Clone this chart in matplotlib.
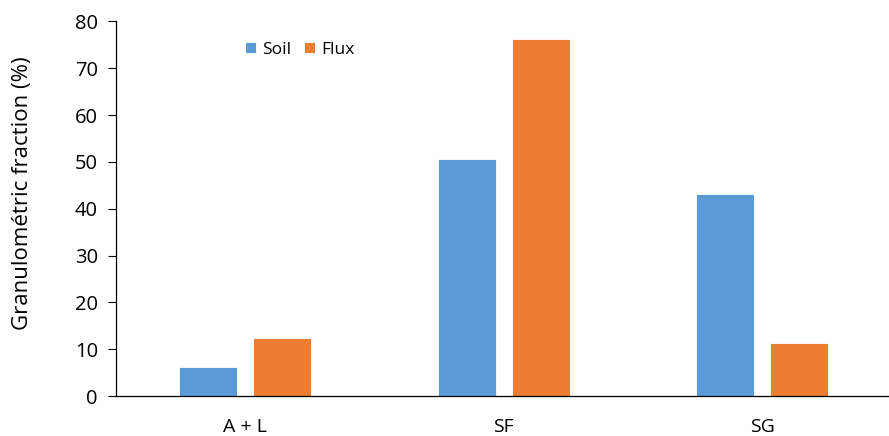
import matplotlib
matplotlib.use("Agg")
import matplotlib.pyplot as plt
import numpy as np

categories = ["A + L", "SF", "SG"]
soil = [6.1, 50.6, 43.2]
flux = [12.4, 76.2, 11.3]
y_ticks = [0, 10, 20, 30, 40, 50, 60, 70, 80]

plt.rcParams['font.family'] = ['Open Sans', 'DejaVu Sans']

fig = plt.figure(figsize=(8.89, 4.36), dpi=100)
ax = fig.add_axes([0.1305, 0.0917, 0.872, 0.859])

x = np.arange(len(categories))
width = 0.224
offset = 0.143
ax.bar(x - offset, soil, width, color="#5B9BD5", edgecolor="white", linewidth=0.6, label="Soil")
ax.bar(x + offset, flux, width, color="#ED7D31", edgecolor="white", linewidth=0.6, label="Flux")

ax.set_xlim(-0.5, 2.5)
ax.set_ylim(0, 80)
ax.set_yticks(y_ticks)
ax.set_xticks(x)
ax.set_xticklabels(categories)

ax.tick_params(axis="y", direction="out", length=6, width=0.8, pad=7, labelsize=14.5, colors="black")
ax.tick_params(axis="x", length=0, pad=16, labelsize=14)

for s in ["top", "right"]:
    ax.spines[s].set_visible(False)
ax.spines["left"].set_linewidth(0.9)
ax.spines["bottom"].set_linewidth(0.9)

ax.set_ylabel("Granulométric fraction (%)", fontsize=16)
ax.yaxis.set_label_coords(-0.107, 0.542)

ax.legend(loc="center", bbox_to_anchor=(0.337, 0.886), bbox_transform=fig.transFigure,
          ncol=2, frameon=False, fontsize=12.5, handlelength=0.65, handleheight=0.65,
          handletextpad=0.35, columnspacing=0.7)

fig.savefig("out.png", dpi=100)
